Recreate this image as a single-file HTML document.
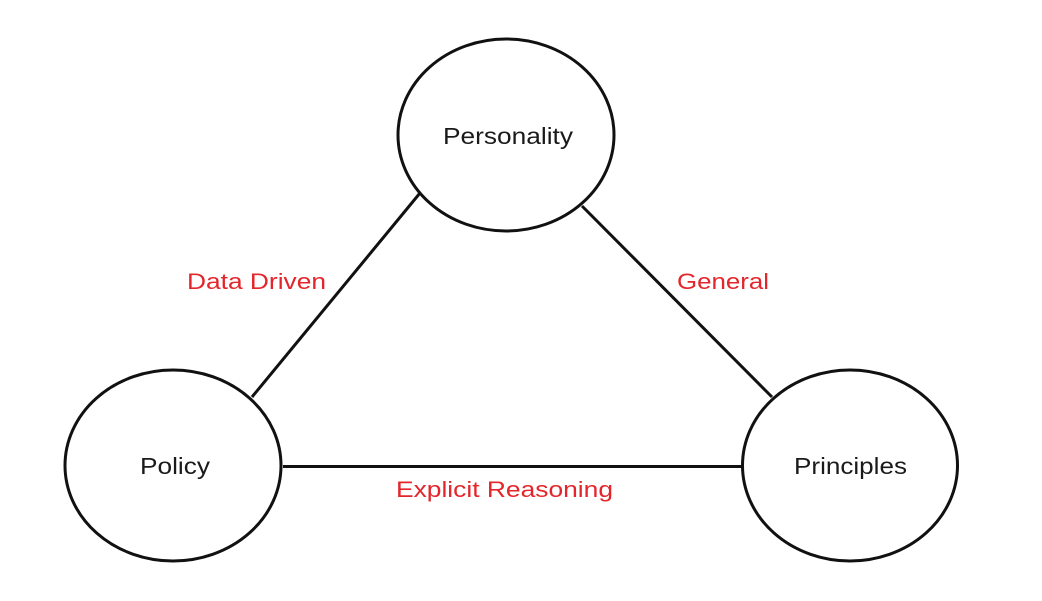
<!DOCTYPE html>
<html>
<head>
<meta charset="utf-8">
<style>
  html, body { margin: 0; padding: 0; background: #ffffff; }
  body { width: 1042px; height: 601px; overflow: hidden; }
  svg { display: block; }
  text { font-family: "Liberation Sans", sans-serif; }
</style>
</head>
<body>
<svg width="1042" height="601" viewBox="0 0 1042 601" xmlns="http://www.w3.org/2000/svg">
  <rect width="1042" height="601" fill="#ffffff"/>
  <!-- connectors -->
  <g stroke="#111111" stroke-width="3" fill="none" stroke-linecap="butt">
    <line x1="252" y1="397" x2="420" y2="193"/>
    <line x1="582" y1="206" x2="772" y2="397"/>
    <line x1="283" y1="466.5" x2="742" y2="466.5"/>
  </g>
  <!-- nodes -->
  <g stroke="#111111" stroke-width="3" fill="none">
    <ellipse cx="506" cy="135" rx="108" ry="96"/>
    <ellipse cx="173" cy="465.5" rx="108" ry="95.5"/>
    <ellipse cx="850" cy="465.5" rx="107.5" ry="95.5"/>
  </g>
  <!-- node labels -->
  <g fill="#1a1a1a" font-size="23.5">
    <text x="443" y="144" textLength="130" lengthAdjust="spacingAndGlyphs">Personality</text>
    <text x="140" y="474" textLength="70" lengthAdjust="spacingAndGlyphs">Policy</text>
    <text x="794" y="474" textLength="113" lengthAdjust="spacingAndGlyphs">Principles</text>
  </g>
  <!-- edge labels -->
  <g fill="#e3262b" font-size="22.5">
    <text x="187" y="289" textLength="139" lengthAdjust="spacingAndGlyphs">Data Driven</text>
    <text x="677" y="289" textLength="92" lengthAdjust="spacingAndGlyphs">General</text>
    <text x="396" y="497" textLength="217" lengthAdjust="spacingAndGlyphs">Explicit Reasoning</text>
  </g>
</svg>
</body>
</html>
